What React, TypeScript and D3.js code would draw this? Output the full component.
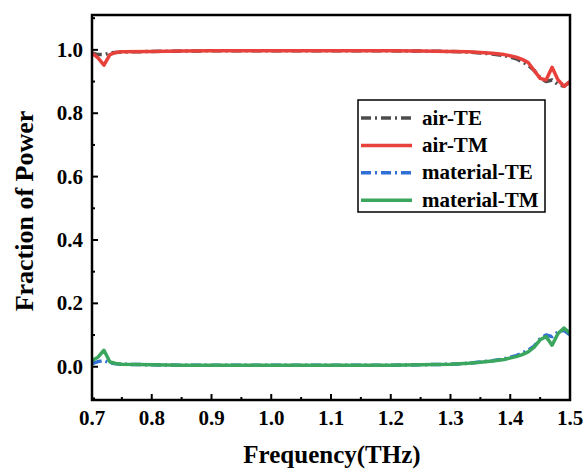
import React from "react";
import * as d3 from "d3";

const freq = [0.7, 0.71, 0.72, 0.73, 0.74, 0.75, 0.8, 0.85, 0.9, 0.95, 1.0, 1.05, 1.1, 1.15, 1.2, 1.25, 1.3, 1.33, 1.35, 1.37, 1.39, 1.41, 1.42, 1.43, 1.44, 1.45, 1.46, 1.47, 1.48, 1.49, 1.5];

const airTE = [0.99, 0.985, 0.985, 0.99, 0.992, 0.993, 0.995, 0.996, 0.997, 0.997, 0.997, 0.997, 0.997, 0.997, 0.997, 0.996, 0.995, 0.993, 0.99, 0.987, 0.982, 0.972, 0.962, 0.952, 0.935, 0.912, 0.9, 0.905, 0.89, 0.885, 0.9];
const airTM = [0.99, 0.975, 0.952, 0.985, 0.992, 0.994, 0.995, 0.996, 0.997, 0.997, 0.997, 0.997, 0.997, 0.997, 0.997, 0.996, 0.995, 0.994, 0.992, 0.989, 0.985, 0.977, 0.97, 0.96, 0.935, 0.91, 0.905, 0.945, 0.905, 0.885, 0.9];
const materialTE = [0.01, 0.016, 0.02, 0.012, 0.009, 0.008, 0.006, 0.005, 0.005, 0.005, 0.005, 0.005, 0.005, 0.005, 0.005, 0.006, 0.008, 0.011, 0.015, 0.019, 0.025, 0.035, 0.043, 0.052, 0.065, 0.088, 0.1, 0.095, 0.11, 0.115, 0.1];
const materialTM = [0.02, 0.03, 0.052, 0.015, 0.01, 0.008, 0.006, 0.005, 0.005, 0.005, 0.005, 0.005, 0.005, 0.005, 0.005, 0.006, 0.008, 0.011, 0.014, 0.018, 0.023, 0.032, 0.038, 0.047, 0.062, 0.085, 0.095, 0.068, 0.105, 0.122, 0.105];

const xTicks = [0.7, 0.8, 0.9, 1.0, 1.1, 1.2, 1.3, 1.4, 1.5];
const yTicks = [0.0, 0.2, 0.4, 0.6, 0.8, 1.0];

const series = [
  { name: "air-TE", values: airTE, color: "#4d4d4d", dash: "10,4,2,4" },
  { name: "air-TM", values: airTM, color: "#e8413c", dash: "" },
  { name: "material-TE", values: materialTE, color: "#2f6fd6", dash: "10,4,2,4" },
  { name: "material-TM", values: materialTM, color: "#3aa65e", dash: "" },
];

const font = '"Liberation Serif", "Times New Roman", serif';

export default function App() {
  const left = 92, right = 570, top = 15, bottom = 400;
  const x = d3.scaleLinear().domain([0.7, 1.5]).range([left, right]);
  const y = d3.scaleLinear().domain([-0.105, 1.11]).range([bottom, top]);

  const line = (vals: number[]) =>
    d3.line<number>()
      .x((_, i) => x(freq[i]))
      .y((d) => y(d))(vals) || "";

  const xMinor = d3.range(0.75, 1.5, 0.1);
  const yMinor = d3.range(-0.1, 1.11, 0.2);

  return (
    <svg width={586} height={471}
      style={{ position: "absolute", left: 0, top: 0, background: "#fff", fontFamily: font, fontWeight: 700 }}>
      <defs>
        <clipPath id="plot">
          <rect x={left} y={top} width={right - left} height={bottom - top} />
        </clipPath>
      </defs>

      <g clipPath="url(#plot)">
        {series.map((s) => (
          <path key={s.name} d={line(s.values)} fill="none" stroke={s.color}
            strokeWidth={3.5} strokeDasharray={s.dash || undefined} strokeLinejoin="round" />
        ))}
      </g>

      {/* ticks */}
      {xTicks.map((t) => (
        <g key={"x" + t}>
          <line x1={x(t)} x2={x(t)} y1={bottom} y2={bottom - 6} stroke="#000" strokeWidth={2} />
          <text x={x(t)} y={425} textAnchor="middle" fontSize={21}>{t.toFixed(1)}</text>
        </g>
      ))}
      {xMinor.map((t) => (
        <line key={"xm" + t} x1={x(t)} x2={x(t)} y1={bottom} y2={bottom - 3} stroke="#000" strokeWidth={2} />
      ))}
      {yTicks.map((t) => (
        <g key={"y" + t}>
          <line x1={left} x2={left + 6} y1={y(t)} y2={y(t)} stroke="#000" strokeWidth={2} />
          <text x={83} y={y(t) + 7} textAnchor="end" fontSize={21}>{t.toFixed(1)}</text>
        </g>
      ))}
      {yMinor.map((t) => (
        <line key={"ym" + t} x1={left} x2={left + 3} y1={y(t)} y2={y(t)} stroke="#000" strokeWidth={2} />
      ))}

      <rect x={left} y={top} width={right - left} height={bottom - top} fill="none" stroke="#000" strokeWidth={2.5} />

      {/* legend */}
      <rect x={358} y={100} width={187} height={112} fill="#fff" stroke="#000" strokeWidth={1.5} />
      {series.map((s, i) => {
        const base = 124.5 + i * 27.4;
        return (
          <g key={"lg" + s.name}>
            <line x1={361} x2={412} y1={base - 6.5} y2={base - 6.5} stroke={s.color} strokeWidth={3.5}
              strokeDasharray={s.dash || undefined} />
            <text x={422} y={base} fontSize={21}>{s.name}</text>
          </g>
        );
      })}

      <text x={332} y={463} textAnchor="middle" fontSize={25}>Frequency(THz)</text>
      <text transform="translate(33,211) rotate(-90)" textAnchor="middle" fontSize={26}>Fraction of Power</text>
    </svg>
  );
}
